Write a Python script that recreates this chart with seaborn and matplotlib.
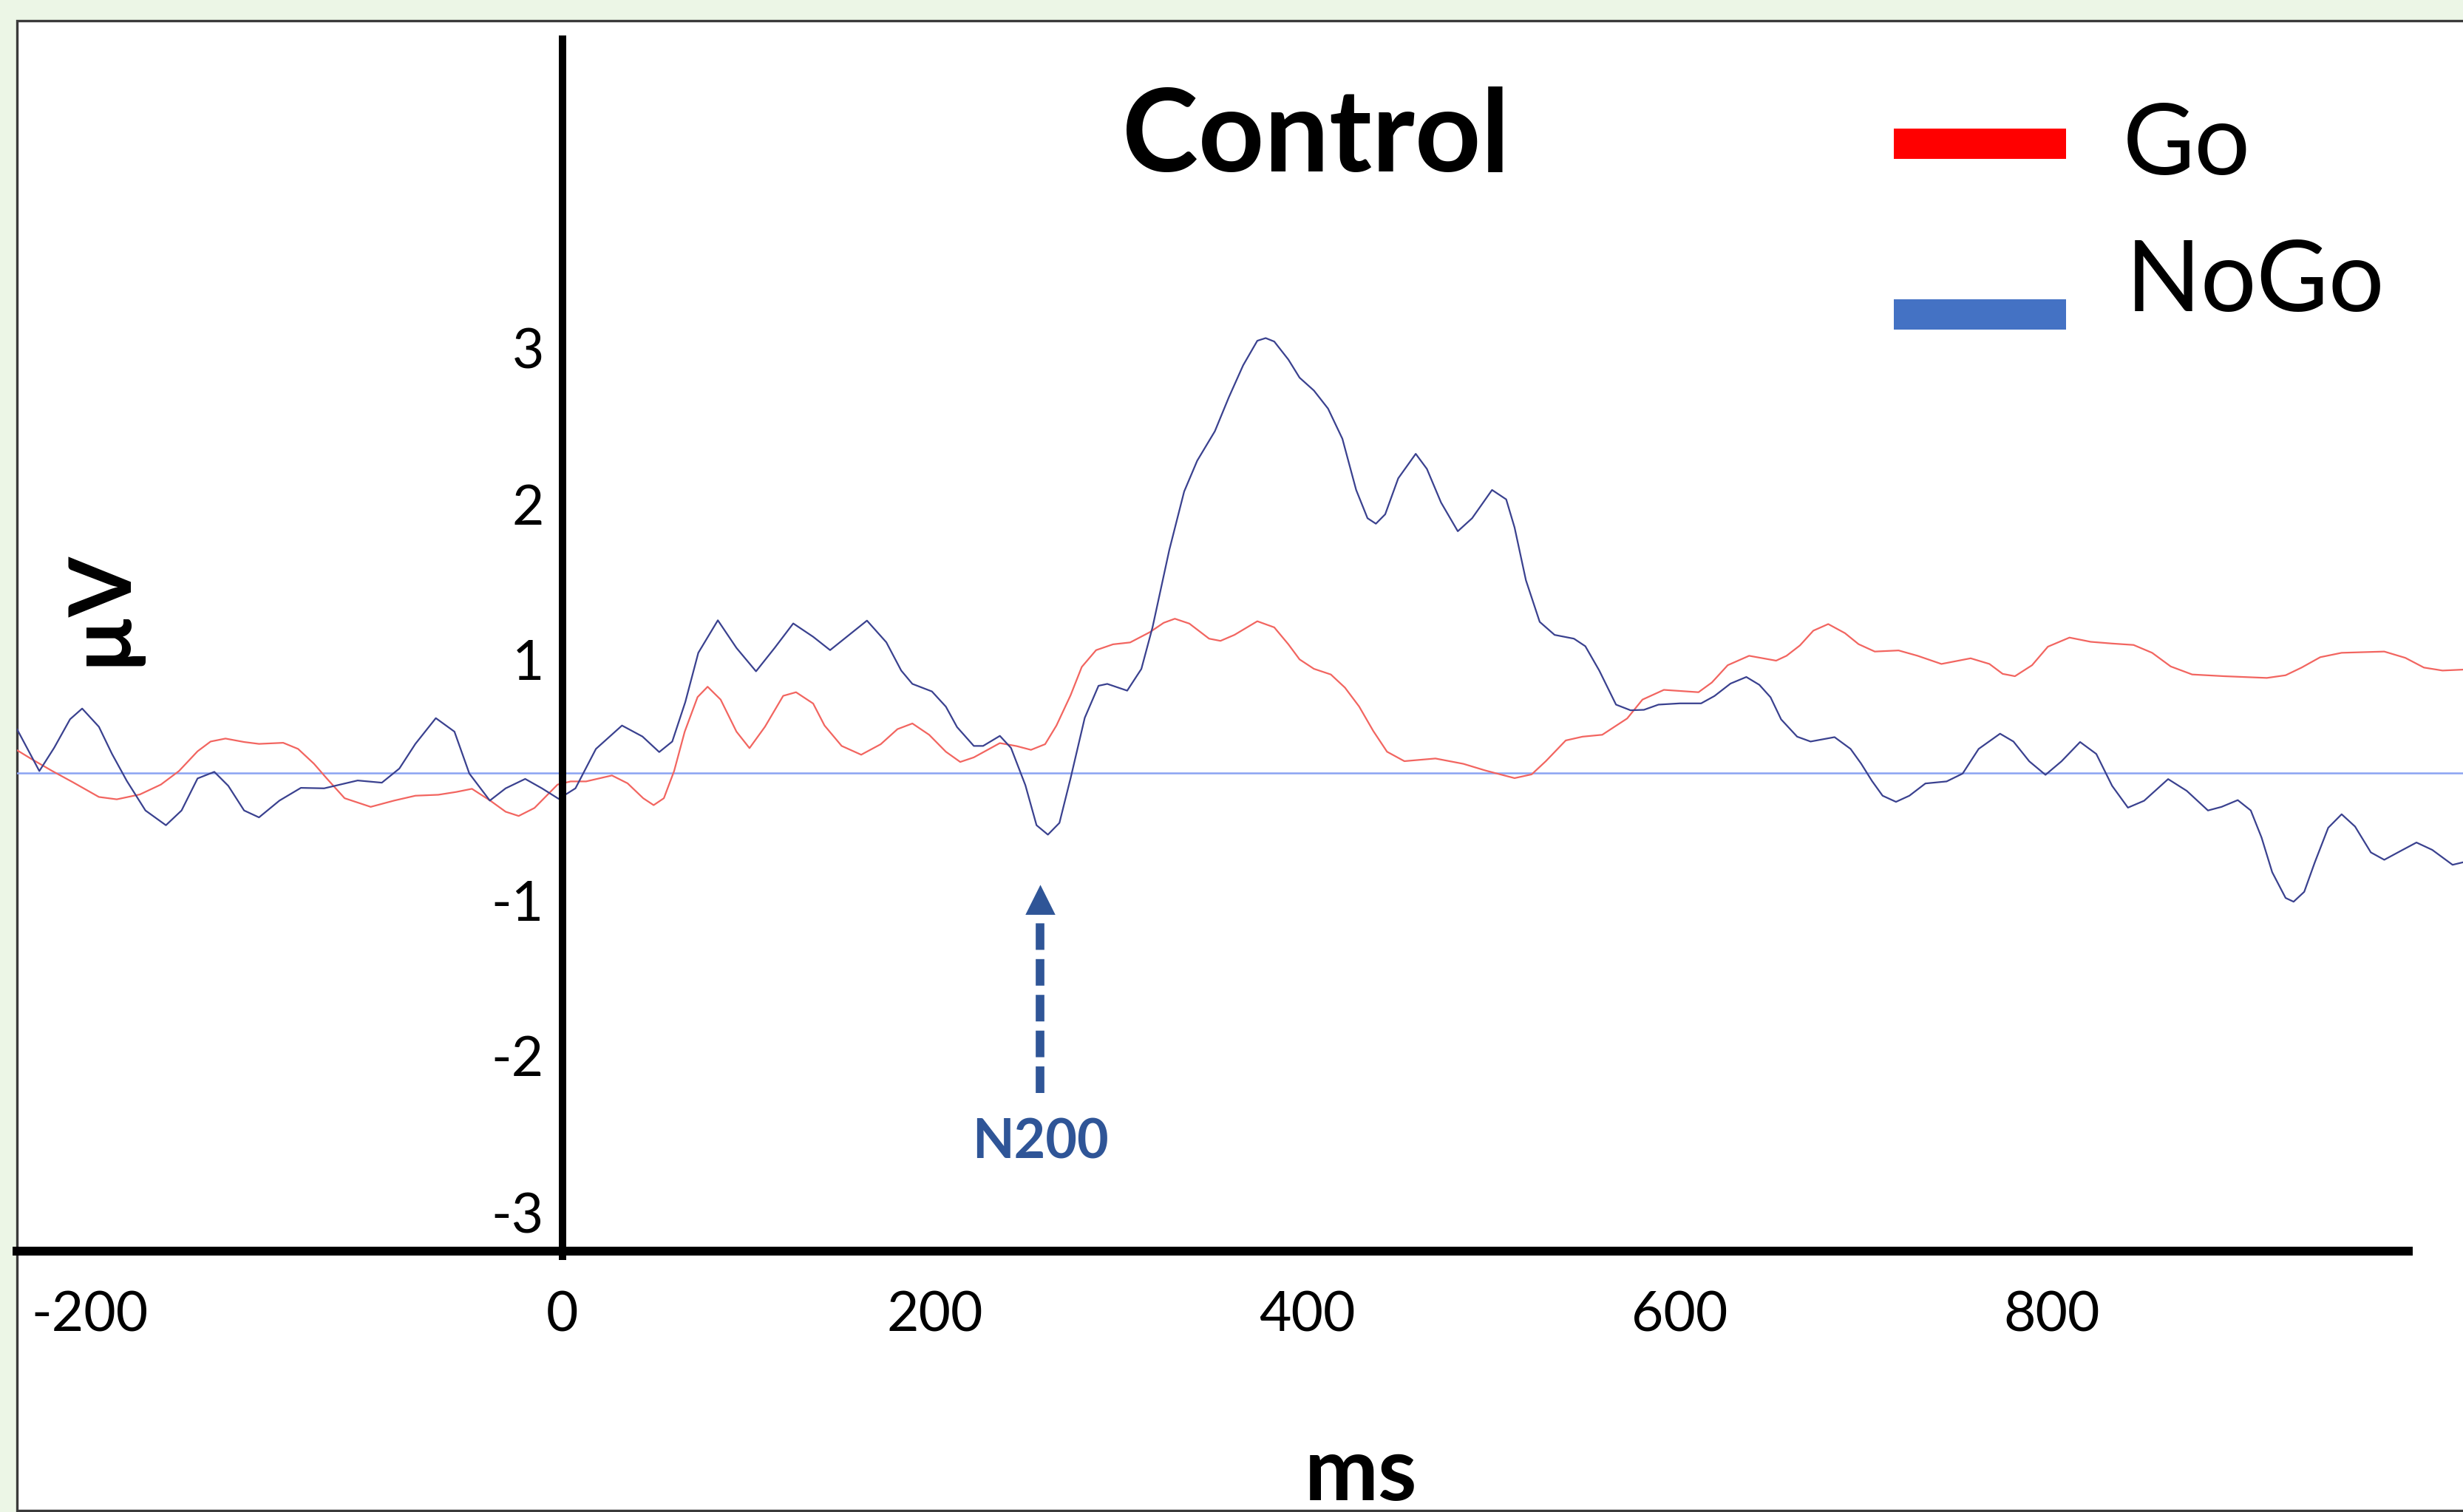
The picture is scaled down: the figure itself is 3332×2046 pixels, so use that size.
import pandas as pd
import matplotlib.pyplot as plt
from matplotlib.patches import Rectangle
import seaborn as sns

# ERP waveforms (ms, microvolts relative to the blue baseline)
go_ms = [-293, -285.4, -274, -263, -249, -239.4, -227, -215.7, -206, -196, -189, -181, -171, -163,
         -150, -142, -133.5, -126.6, -117, -103, -90.4, -79, -66.7, -57, -48.6, -38.8, -30.5, -23.5,
         -15, -2.6, 4.4, 12.7, 26.6, 35, 43.4, 49, 54.5, 60, 65.7, 72.6, 78, 85, 93.5, 100.5, 108.8,
         118.6, 125.5, 134.7, 140.8, 150, 160.5, 171, 180, 188, 197, 206, 213.7, 221, 235, 244, 251.7,
         259.3, 265.4, 273, 279, 286.7, 295.8, 305, 315.5, 323, 329, 336.8, 347.4, 353.5, 361, 373.3,
         382.4, 390, 396, 403.7, 412.8, 420.4, 428, 435.6, 443, 452.3, 469, 484, 496, 511.5, 520.7,
         528.3, 539, 548, 558.6, 572, 580.2, 591.7, 600.3, 610.3, 617.5, 626, 637.5, 652, 657.6, 664.8,
         672, 680, 689, 696.3, 705, 717.8, 728, 740.8, 756.5, 766.6, 773.7, 780.3, 789.5, 798, 809.6,
         821, 832.5, 844, 854, 864, 875.5, 892.7, 915.6, 925.7, 934.3, 944.3, 955.8, 978.7, 990, 1000,
         1010, 1021]
go_uv = [0.143, 0.088, 0.01, -0.061, -0.155, -0.17, -0.139, -0.076, 0.01, 0.136, 0.198, 0.217, 0.195, 0.183,
         0.19, 0.151, 0.057, -0.037, -0.163, -0.218, -0.178, -0.147, -0.141, -0.123, -0.103, -0.178, -0.249, -0.276,
         -0.225, -0.076, -0.056, -0.056, -0.018, -0.068, -0.163, -0.207, -0.163, 0.01, 0.261, 0.481, 0.547, 0.465, 0.261, 0.156, 0.292,
         0.489, 0.512, 0.44, 0.3, 0.17, 0.114, 0.181, 0.277, 0.313, 0.241, 0.133, 0.068, 0.097, 0.188, 0.169, 0.145,
         0.181, 0.3, 0.493, 0.673, 0.78, 0.817, 0.829, 0.894, 0.954, 0.98, 0.949, 0.853, 0.839, 0.877, 0.964,
         0.925, 0.817, 0.721, 0.661, 0.625, 0.541, 0.421, 0.265, 0.133, 0.073, 0.09, 0.056, 0.013, -0.035, -0.011,
         0.073, 0.205, 0.229, 0.241, 0.345, 0.465, 0.527, 0.52, 0.512, 0.574, 0.684, 0.744, 0.713, 0.744, 0.81,
         0.904, 0.946, 0.888, 0.818, 0.771, 0.778, 0.744, 0.692, 0.728, 0.692, 0.629, 0.614, 0.684, 0.802, 0.86,
         0.833, 0.822, 0.813, 0.763, 0.676, 0.625, 0.614, 0.603, 0.62, 0.669, 0.735, 0.763, 0.771, 0.731, 0.669,
         0.65, 0.656]

nogo_ms = [-293, -281, -273, -264.5, -258, -249, -242, -234, -224, -213, -204.6, -196, -187, -179.5, -171,
           -163, -152, -140.5, -128, -110, -97, -87.6, -79, -68, -58, -50, -39, -30.5, -20, -11, -2, 7, 18,
           32, 43, 52, 59, 66, 73, 83.5, 93.5, 104, 114, 124, 134.7, 143.8, 163.6, 174, 182, 188, 198.5,
           206, 212, 221, 226, 235, 241, 248.7, 254.7, 260.8, 267, 273, 280.6, 288, 292.7, 303.4, 311, 317,
           326, 334, 341, 350.5, 358, 365.7, 373.3, 377.8, 382.4, 390, 396, 403.7, 411.3, 419, 426.4, 432.5,
           437, 442, 449, 458.4, 464.4, 472, 481, 488.7, 499.4, 507, 511.5, 517.6, 525, 533, 543.4, 549.5,
           557, 566, 573.8, 581, 588.8, 600.3, 611.7, 618.9, 627.5, 636, 643, 649, 654.7, 663.3, 670.5,
           683.4, 692, 697.7, 703.5, 709.2, 716.4, 723.6, 732.2, 743.6, 752.2, 760.8, 772.3, 779.5, 788,
           796.7, 805.3, 815.3, 824, 832.5, 841, 849.7, 862.6, 872.6, 884, 891.3, 900, 907, 912.8, 918.5,
           925.7, 930, 935.7, 941.4, 948.6, 955.8, 963, 971.5, 978.7, 987.3, 996, 1004.5, 1015.4, 1021]
nogo_uv = [0.277, 0.01, 0.159, 0.34, 0.408, 0.292, 0.12, -0.053, -0.241, -0.335, -0.241, -0.037, 0.005, -0.084, -0.241,
           -0.285, -0.178, -0.097, -0.1, -0.05, -0.064, 0.026, 0.183, 0.347, 0.261, -0.006, -0.178, -0.1, -0.04, -0.1, -0.167, -0.1, 0.151,
           0.3, 0.23, 0.131, 0.198, 0.449, 0.763, 0.97, 0.794, 0.645, 0.794, 0.95, 0.865, 0.78, 0.968, 0.83, 0.65, 0.565, 0.517,
           0.42, 0.29, 0.17, 0.17, 0.234, 0.157, -0.08, -0.335, -0.395, -0.32, -0.035, 0.349, 0.553, 0.565, 0.522, 0.66, 0.925,
           1.417, 1.79, 1.986, 2.174, 2.39, 2.594, 2.75, 2.767, 2.745, 2.63, 2.515, 2.433, 2.318, 2.126, 1.8, 1.62,
           1.585, 1.645, 1.874, 2.03, 1.934, 1.72, 1.537, 1.62, 1.8, 1.74, 1.561, 1.225, 0.96, 0.877, 0.853, 0.805,
           0.65, 0.433, 0.397, 0.4, 0.433, 0.441, 0.441, 0.488, 0.567, 0.609, 0.559, 0.48, 0.339, 0.229, 0.198,
           0.226, 0.151, 0.057, -0.053, -0.147, -0.186, -0.147, -0.069, -0.056, -0.006, 0.151, 0.248, 0.198, 0.072,
           -0.014, 0.072, 0.195, 0.119, -0.084, -0.223, -0.179, -0.041, -0.116, -0.241, -0.218, -0.175, -0.241, -0.414, -0.634,
           -0.798, -0.822, -0.759, -0.571, -0.351, -0.265, -0.343, -0.508, -0.555, -0.5, -0.445, -0.492, -0.587, -0.571]

# hand placed axis labels of the original figure
xtick_pos = [-254, 0, 200, 400, 600, 800]
xtick_lbl = ['-200', '0', '200', '400', '600', '800']
ytick_pos = [2.705, 1.71, 0.72, -0.81, -1.80, -2.80]
ytick_lbl = ['3', '2', '1', '-1', '-2', '-3']

# N200 arrow (ms, head / shaft in uV)
n200_ms = 256.5
n200_tip = -0.814
n200_tail = [-2.04, -0.953]

df = pd.DataFrame({
    'ms': go_ms + nogo_ms,
    'uV': go_uv + nogo_uv,
    'cond': ['Go'] * len(go_ms) + ['NoGo'] * len(nogo_ms),
})

sns.set_style('white')
plt.rcParams['font.family'] = ['Lato', 'DejaVu Sans']
plt.rcParams['text.color'] = 'black'

W, H = 3332, 2046
fig = plt.figure(figsize=(W / 200, H / 200), dpi=200, facecolor='#ecf6e6')
fig.patches.append(Rectangle((23 / W, 2 / H), 1.2, 1 - 30 / H, transform=fig.transFigure,
                             facecolor='white', edgecolor='#3a3a3a', lw=1.2, zorder=-5))

ax = fig.add_axes([23 / W, 0, 1 - 23 / W, 1 - 28 / H])
ax.set_zorder(2)
ax.set_facecolor('none')
ax.axhline(0, color='#8aa3f2', lw=0.9, zorder=1)
sns.lineplot(data=df, x='ms', y='uV', hue='cond', estimator=None, sort=False,
             palette={'Go': '#f26560', 'NoGo': '#3a418f'}, lw=0.8, legend=False, ax=ax, zorder=2)
ax.set_xlim(-293, 1021)
ax.set_ylim(-4.708, 4.788)

for s in ['top', 'right']:
    ax.spines[s].set_visible(False)
ax.spines['left'].set_position(('data', 0))
ax.spines['left'].set_bounds(-3.08, 4.67)
ax.spines['left'].set_linewidth(3.6)
ax.spines['left'].set_color('black')
ax.spines['bottom'].set_position(('data', -3.047))
ax.spines['bottom'].set_bounds(-293, 991.7)
ax.spines['bottom'].set_linewidth(4.3)
ax.spines['bottom'].set_color('black')

ax.set_xticks(xtick_pos, labels=xtick_lbl)
ax.set_yticks(ytick_pos, labels=ytick_lbl)
ax.tick_params(axis='both', length=0, labelsize=27, colors='black')
ax.tick_params(axis='x', pad=19)
ax.tick_params(axis='y', pad=9)
ax.set_xlabel('')
ax.set_ylabel('')

# N200 marker
ax.plot([n200_ms, n200_ms], n200_tail, color='#2f5597', lw=4.2, dashes=(3.08, 1.07),
        dash_capstyle='butt', zorder=3)
ax.plot([n200_ms], [n200_tip], marker='^', markersize=13.3, color='#2f5597', zorder=3)
fig.text(0.4224, 1 - 1567 / H, 'N200', ha='center', va='baseline', fontsize=26.5,
         fontweight='bold', color='#2f5597')

# titles and axis names
fig.text(0.5342, 1 - 232 / H, 'Control', ha='center', va='baseline', fontsize=56, fontweight='bold')
fig.text(0.0405, 1 - 822 / H, 'µV', ha='center', va='center', rotation=90, fontsize=42, fontweight='bold')
fig.text(1841 / W, 1 - 2030 / H, 'ms', ha='center', va='baseline', fontsize=43, fontweight='bold')

# legend
fig.patches.append(Rectangle((2562 / W, 1 - 215 / H), 233 / W, 41 / H, transform=fig.transFigure,
                             facecolor='#ff0000', lw=0, zorder=3))
fig.patches.append(Rectangle((2562 / W, 1 - 446 / H), 233 / W, 41 / H, transform=fig.transFigure,
                             facecolor='#4472c4', lw=0, zorder=3))
fig.text(2872 / W, 1 - 236 / H, 'Go', ha='left', va='baseline', fontsize=48)
fig.text(2876 / W, 1 - 421 / H, 'NoGo', ha='left', va='baseline', fontsize=48)

fig.savefig('out.png', dpi=200, facecolor=fig.get_facecolor())
